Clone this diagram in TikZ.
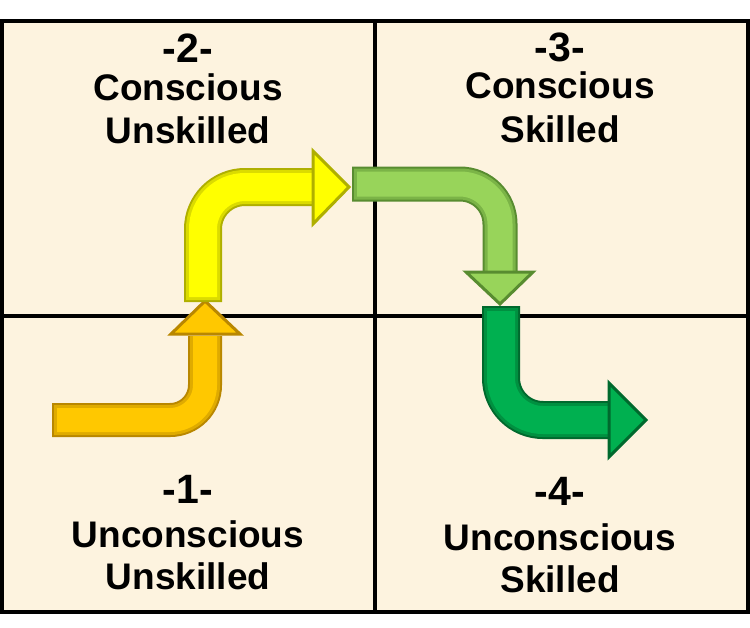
\documentclass[tikz,border=0pt]{standalone}
\usepackage{fontspec}
\setmainfont{Liberation Sans}
\usepackage{tikz}
\usetikzlibrary{positioning}
\usetikzlibrary{calc}

\definecolor{paper}{RGB}{253,243,223}
\definecolor{goldmain}{RGB}{255,200,0}
\definecolor{golddark}{RGB}{185,135,0}
\definecolor{yelmain}{RGB}{255,255,0}
\definecolor{yeldark}{RGB}{175,175,0}
\definecolor{limemain}{RGB}{152,212,90}
\definecolor{limedark}{RGB}{88,140,48}
\definecolor{grnmain}{RGB}{0,176,80}
\definecolor{grndark}{RGB}{0,105,45}

\begin{document}
\begin{tikzpicture}[x=1pt, y=-1pt,
    num/.style={anchor=base, inner sep=0pt, font=\fontsize{41}{41}\selectfont\bfseries},
    word/.style={anchor=base, inner sep=0pt, font=\fontsize{37}{37}\selectfont\bfseries},
    grid/.style={draw=black, line width=3.5pt},
    head/.style={line width=3pt, line join=miter}]

    \useasboundingbox (0,0) rectangle (750,627);

    % the four quadrants
    \coordinate (nw) at (2,21);
    \coordinate (se) at (748,612);
    \coordinate (mt) at (375,21);
    \coordinate (mb) at (375,612);
    \coordinate (ml) at (2,316);
    \coordinate (mr) at (748,316);
    \fill[paper] (nw) rectangle (se);
    \draw[grid] (mt) -- (mb);
    \draw[grid] (ml) -- (mr);
    \draw[grid] (nw) rectangle (se);

    % stage 1 -> 2
    \coordinate (a1s) at (52,420);
    \coordinate (a1c) at (205,420);
    \coordinate (a1e) at (205,336);
    \draw[golddark, line width=34pt, rounded corners=35pt] (a1s) -- (a1c) -- (a1e);
    \draw[golddark!45!goldmain, line width=30pt, rounded corners=35pt] ($(a1s)+(2,0)$) -- (a1c) -- (a1e);
    \draw[goldmain, line width=24pt, rounded corners=35pt] ($(a1s)+(5,0)$) -- (a1c) -- (a1e);
    \filldraw[head, draw=golddark, fill=goldmain] (171,334) -- (205,301) -- (240,334) -- cycle;

    % stage 2 -> 3
    \coordinate (a2s) at (203,302);
    \coordinate (a2c) at (203,187);
    \coordinate (a2e) at (315,187);
    \draw[yeldark, line width=38pt, rounded corners=42pt] (a2s) -- (a2c) -- (a2e);
    \draw[yeldark!45!yelmain, line width=34pt, rounded corners=42pt] ($(a2s)+(0,-2)$) -- (a2c) -- (a2e);
    \draw[yelmain, line width=28pt, rounded corners=42pt] ($(a2s)+(0,-5)$) -- (a2c) -- (a2e);
    \filldraw[head, draw=yeldark, fill=yelmain] (313,151) -- (349,187) -- (313,224) -- cycle;

    % stage 3 -> 4
    \coordinate (a3s) at (352,184);
    \coordinate (a3c) at (500,184);
    \coordinate (a3e) at (500,274);
    \draw[limedark, line width=35pt, rounded corners=40pt] (a3s) -- (a3c) -- (a3e);
    \draw[limedark!45!limemain, line width=31pt, rounded corners=40pt] ($(a3s)+(2,0)$) -- (a3c) -- (a3e);
    \draw[limemain, line width=25pt, rounded corners=40pt] ($(a3s)+(5,0)$) -- (a3c) -- (a3e);
    \filldraw[head, draw=limedark, fill=limemain] (466,272) -- (500,304) -- (533,272) -- cycle;

    % stage 4 onwards
    \coordinate (a4s) at (501,306);
    \coordinate (a4c) at (501,420);
    \coordinate (a4e) at (611,420);
    \draw[grndark, line width=38pt, rounded corners=42pt] (a4s) -- (a4c) -- (a4e);
    \draw[grndark!45!grnmain, line width=34pt, rounded corners=42pt] ($(a4s)+(0,2)$) -- (a4c) -- (a4e);
    \draw[grnmain, line width=28pt, rounded corners=42pt] ($(a4s)+(0,5)$) -- (a4c) -- (a4e);
    \filldraw[head, draw=grndark, fill=grnmain] (609,383) -- (646,420) -- (609,457) -- cycle;

    % labels
    \node[num]  (n2) at (188,62)  {-2-};
    \node[word] (c2) at (188,100) {Conscious};
    \node[word] (s2) at (188,143) {Unskilled};

    \node[num]  (n3) at (560,61)  {-3-};
    \node[word] (c3) at (560,98)  {Conscious};
    \node[word] (s3) at (560,142) {Skilled};

    \node[num]  (n1) at (188,503) {-1-};
    \node[word] (c1) at (188,547) {Unconscious};
    \node[word] (s1) at (188,589) {Unskilled};

    \node[num]  (n4) at (560,505) {-4-};
    \node[word] (c4) at (560,550) {Unconscious};
    \node[word] (s4) at (560,592) {Skilled};
\end{tikzpicture}
\end{document}
